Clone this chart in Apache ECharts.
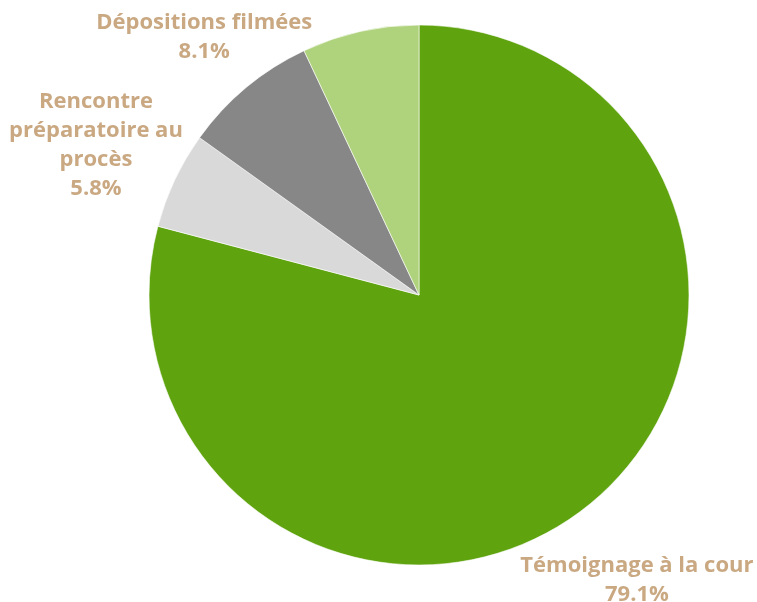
<!DOCTYPE html>
<html>
<head>
<meta charset="utf-8">
<title>Répartition</title>
<script src="https://cdn.jsdelivr.net/npm/echarts@6/dist/echarts.min.js"></script>
<style>
  html, body { margin: 0; padding: 0; background: #fff; }
  #main { width: 757px; height: 602px; }
</style>
</head>
<body>
<div id="main"></div>
<script type="text/javascript">
    // données du graphique
    var categories = ['Témoignage à la cour', 'Rencontre préparatoire au procès', 'Dépositions filmées', 'Autres'];
    var labelNames = ['Témoignage à la cour', 'Rencontre\npréparatoire au\nprocès', 'Dépositions filmées', 'Autres'];
    var values = [79.1, 5.8, 8.1, 7.0];
    var colors = ['#5fa30f', '#d9d9d9', '#878787', '#afd27d'];
    var showLabel = [true, true, true, false];

    var cx = 419, cy = 295, radius = 270, labelRadius = 357;
    var total = values.reduce(function (a, b) { return a + b; }, 0);

    var chart = echarts.init(document.getElementById('main'));

    var option = {
      backgroundColor: '#fff',
      animation: false,
      series: [{
        type: 'pie',
        center: [cx, cy],
        radius: radius,
        startAngle: 90,
        clockwise: true,
        avoidLabelOverlap: false,
        itemStyle: { borderColor: '#fff', borderWidth: 0.6 },
        label: {
          show: true,
          position: 'outside',
          color: '#c9a882',
          fontFamily: 'Open Sans',
          fontWeight: 'bold',
          fontSize: 22,
          lineHeight: 29,
          align: 'center',
          overflow: 'none',
          formatter: function (p) {
            return labelNames[p.dataIndex] + '\n' + values[p.dataIndex].toFixed(1) + '%';
          }
        },
        labelLine: { show: false },
        emphasis: { disabled: true },
        // place chaque étiquette au centre, sur l'angle médian de sa part
        labelLayout: function (p) {
          var before = 0;
          for (var i = 0; i < p.dataIndex; i++) before += values[i];
          var mid = (before + values[p.dataIndex] / 2) / total * 2 * Math.PI;
          var r = labelRadius;
          var h = p.labelRect.height;
          var y = cy - Math.cos(mid) * r + 2;
          if (y - h / 2 < 8) {
            // trop haut : on glisse l'étiquette vers le centre le long du rayon
            y = 8 + h / 2;
            r = (cy - y) / Math.cos(mid);
          }
          var x = cx + Math.sin(mid) * r;
          return { x: x, y: y, align: 'center', verticalAlign: 'middle' };
        },
        data: categories.map(function (c, i) {
          return {
            name: c,
            value: values[i],
            itemStyle: { color: colors[i] },
            label: { show: showLabel[i] }
          };
        })
      }]
    };

    chart.setOption(option);
</script>
</body>
</html>
